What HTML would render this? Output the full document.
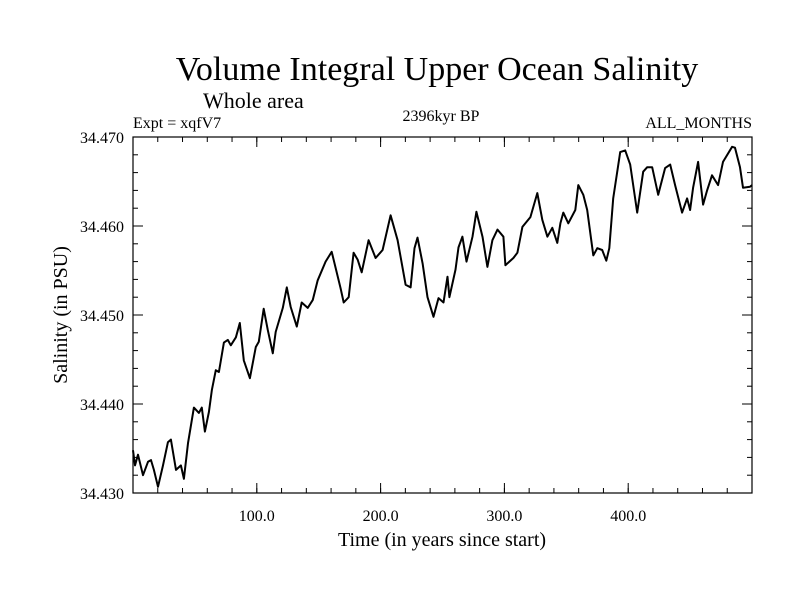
<!DOCTYPE html>
<html><head><meta charset="utf-8"><style>
body{margin:0;background:#fff}
svg text{font-family:"Liberation Serif",serif;fill:#000}
</style></head><body>
<svg id="chart" width="800" height="600" xmlns="http://www.w3.org/2000/svg">
<rect width="800" height="600" fill="#fff"/>
<text x="437" y="80" font-size="34" text-anchor="middle">Volume Integral Upper Ocean Salinity</text>
<text x="203" y="108" font-size="22">Whole area</text>
<text x="133" y="128" font-size="16">Expt = xqfV7</text>
<text x="441" y="121" font-size="16" text-anchor="middle">2396kyr BP</text>
<text x="752" y="128" font-size="16" text-anchor="end">ALL_MONTHS</text>
<text x="0" y="0" font-size="20" text-anchor="middle" transform="translate(67,315) rotate(-90)">Salinity (in PSU)</text>
<text x="442" y="546" font-size="20" text-anchor="middle">Time (in years since start)</text>
<g id="axes"></g>
<polyline id="series" fill="none" stroke="#000" stroke-width="2" stroke-linejoin="round"/>
<rect x="133" y="137" width="619" height="356" fill="none" stroke="#000" stroke-width="1.2"/>
</svg>
<script>
const years=[0,1.6,4.0,8.1,12.1,14.5,16.9,20.2,24.2,28.2,30.6,34.7,38.7,41.1,44.4,49.2,53.2,55.6,58.1,61.3,63.7,66.9,69.4,73.4,76.6,79.0,83.1,86.3,89.5,94.4,99.2,101.6,105.6,108.9,112.9,115.3,121.0,124.2,127.4,132.3,136.3,141.1,145.2,149.2,155.6,160.5,
167.7,170.2,174.2,178.2,181.5,184.7,190.3,196.0,201.6,208.1,213.7,220.2,224.2,227.4,229.8,233.9,237.9,242.7,246.8,250.8,254.0,255.6,260.5,262.9,266.1,269.4,274.2,277.4,282.3,286.3,290.3,294.4,299.2,300.8,307.3,310.5,314.5,321.0,326.6,330.6,334.7,338.7,342.7,345.2,
347.6,351.6,357.3,359.7,363.7,366.9,371.8,375.0,379.0,382.3,384.7,387.9,393.5,397.6,401.6,407.3,412.1,415.3,419.4,424.2,429.8,433.9,437.9,443.5,447.6,450.0,452.4,456.5,460.5,463.7,467.7,472.6,476.6,483.9,486.3,490.3,492.7,498.4,500];
const salinity=[34.4348,34.4331,34.4343,34.4320,34.4335,34.4337,34.4326,34.4307,34.4331,34.4357,34.4360,34.4326,34.4331,34.4316,34.4356,34.4396,34.4390,34.4396,34.4369,34.4391,34.4416,34.4438,34.4436,34.4469,34.4472,34.4466,34.4475,34.4491,34.4449,34.4429,34.4464,34.4470,34.4507,34.4483,34.4457,34.4481,34.4508,34.4531,34.4509,34.4487,34.4514,34.4508,34.4517,34.4539,34.4560,34.4571,
34.4530,34.4514,34.4520,34.4570,34.4562,34.4548,34.4584,34.4564,34.4573,34.4612,34.4584,34.4534,34.4531,34.4575,34.4587,34.4558,34.4520,34.4498,34.4519,34.4514,34.4543,34.4520,34.4551,34.4576,34.4588,34.4560,34.4588,34.4616,34.4588,34.4554,34.4584,34.4596,34.4588,34.4556,34.4564,34.4570,34.4599,34.4610,34.4637,34.4607,34.4588,34.4598,34.4581,34.4603,
34.4615,34.4603,34.4618,34.4646,34.4635,34.4618,34.4567,34.4575,34.4573,34.4561,34.4575,34.4631,34.4683,34.4685,34.4669,34.4615,34.4661,34.4666,34.4666,34.4635,34.4665,34.4669,34.4646,34.4615,34.4631,34.4618,34.4643,34.4672,34.4624,34.4640,34.4657,34.4646,34.4672,34.4689,34.4688,34.4666,34.4643,34.4644,34.4646];
const yTickValues=[34.430,34.440,34.450,34.460,34.470];
const yTickLabels=["34.430","34.440","34.450","34.460","34.470"];
const xTickValues=[100,200,300,400];
const xTickLabels=["100.0","200.0","300.0","400.0"];

const X0=133,X1=752,Y0=493,Y1=137;
const xMin=0,xMax=500,yMin=34.43,yMax=34.47;
function sx(v){return X0+(v-xMin)/(xMax-xMin)*(X1-X0);}
function sy(v){return Y0-(v-yMin)/(yMax-yMin)*(Y0-Y1);}
const NS="http://www.w3.org/2000/svg";
const axes=document.getElementById('axes');
function line(x1,y1,x2,y2,name){
  const l=document.createElementNS(NS,'line');
  l.setAttribute('x1',x1);l.setAttribute('y1',y1);l.setAttribute('x2',x2);l.setAttribute('y2',y2);
  l.setAttribute('stroke','#000');l.setAttribute('stroke-width','1');
  
  
  axes.appendChild(l);
}
function txt(x,y,s,anchor,name){
  const t=document.createElementNS(NS,'text');
  t.setAttribute('x',x);t.setAttribute('y',y);t.setAttribute('font-size','16');t.setAttribute('text-anchor',anchor);
  t.textContent=s;
  
  
  axes.appendChild(t);
}
// minor ticks
for(let v=yMin;v<=yMax+1e-9;v+=0.002){
  const y=sy(v);
  line(X0,y,X0+5,y,'y-minor-tick');line(X1,y,X1-5,y,'y-minor-tick-right');
}
for(let v=20;v<xMax;v+=20){
  const x=sx(v);
  line(x,Y0,x,Y0-5,'x-minor-tick');line(x,Y1,x,Y1+5,'x-minor-tick-top');
}
yTickValues.forEach((v,i)=>{
  const y=sy(v);
  line(X0,y,X0+10,y,'y-major-tick');line(X1,y,X1-10,y,'y-major-tick-right');
  txt(124,y+6,yTickLabels[i],'end','y-tick-label');
});
xTickValues.forEach((v,i)=>{
  const x=sx(v);
  line(x,Y0,x,Y0-10,'x-major-tick');line(x,Y1,x,Y1+10,'x-major-tick-top');
  txt(x,521,xTickLabels[i],'middle','x-tick-label');
});
document.getElementById('series').setAttribute('points',years.map((yr,i)=>sx(yr).toFixed(1)+','+sy(salinity[i]).toFixed(1)).join(' '));
</script>
</body></html>
